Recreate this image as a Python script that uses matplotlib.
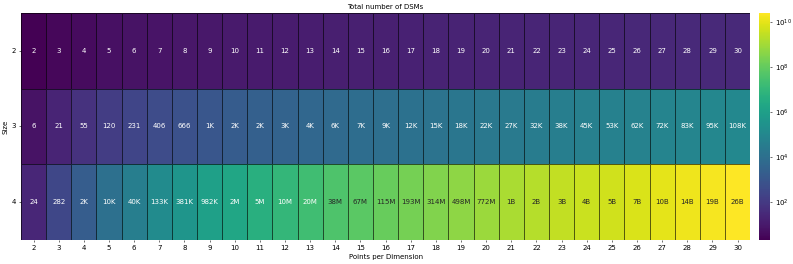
import matplotlib
matplotlib.use("Agg")
import matplotlib.pyplot as plt
import numpy as np
import seaborn as sns
from matplotlib.colors import LogNorm

points = list(range(2, 31))
sizes = [2, 3, 4]

size2 = [2, 3, 4, 5, 6, 7, 8, 9, 10, 11, 12, 13, 14, 15, 16, 17, 18, 19, 20,
         21, 22, 23, 24, 25, 26, 27, 28, 29, 30]
size3 = [6, 21, 55, 120, 231, 406, 666, 1035, 1540, 2211, 3081, 4186, 5565,
         7260, 9316, 11781, 14706, 18145, 22155, 26796, 32131, 38226, 45150,
         52975, 61776, 71631, 82621, 94830, 108345]
size4 = [24, 282, 1800, 10e3, 40e3, 133e3, 381e3, 982e3, 2.0e6, 5.0e6, 10e6,
         20e6, 38e6, 67e6, 115e6, 193e6, 314e6, 498e6, 772e6, 1.3e9, 2.0e9,
         3.0e9, 4.0e9, 5.0e9, 7.0e9, 10e9, 14e9, 19e9, 26e9]
cbar_ticks = [1e2, 1e4, 1e6, 1e8, 1e10]


def fmt(v):
    if v >= 1e9:
        return f"{v / 1e9:.0f}B"
    if v >= 1e6:
        return f"{v / 1e6:.0f}M"
    if v >= 1e3:
        return f"{v / 1e3:.0f}K"
    return f"{v:.0f}"


data = np.array([size2, size3, size4], dtype=float)
labels = np.array([[fmt(v) for v in row] for row in data])

fig = plt.figure(figsize=(15.86, 5.28), dpi=50)
ax = fig.add_axes([0.0265, 0.091, 0.9195, 0.86])
cax = fig.add_axes([0.957, 0.091, 0.014, 0.86])

sns.heatmap(data, ax=ax, cbar_ax=cax, cmap="viridis",
            norm=LogNorm(vmin=data.min(), vmax=data.max()),
            annot=labels, fmt="", annot_kws={"fontsize": 10},
            linewidths=1, linecolor=(0, 0, 0, 0.6),
            xticklabels=points, yticklabels=sizes,
            cbar_kws={"ticks": cbar_ticks})

ax.set_title("Total number of DSMs", fontsize=10)
ax.set_xlabel("Points per Dimension", fontsize=10)
ax.set_ylabel("Size", fontsize=10)
ax.tick_params(labelsize=10)
ax.set_yticklabels(sizes, rotation=0)
cax.minorticks_off()
cax.tick_params(labelsize=10)

fig.savefig("out.png", dpi=50)
